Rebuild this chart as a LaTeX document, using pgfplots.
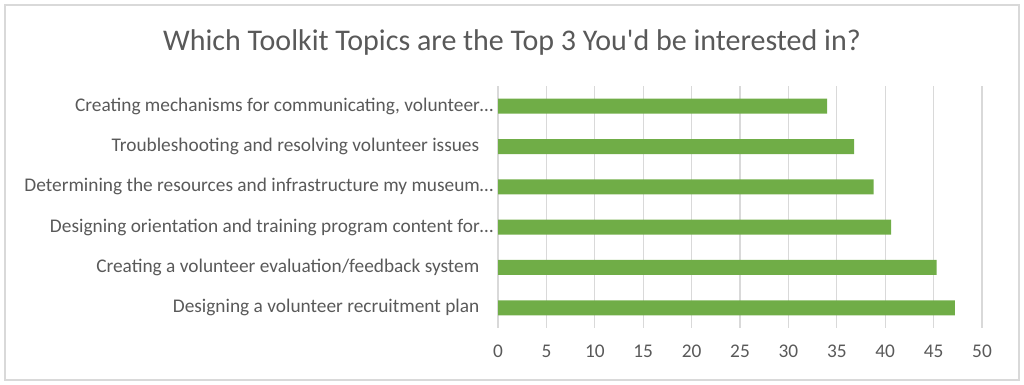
\documentclass[border=0pt]{standalone}
\usepackage{pgfplots}
\pgfplotsset{compat=1.18}
\usepackage{fontspec}
\setmainfont{Carlito}[Ligatures=TeXOff]
\definecolor{bargreen}{HTML}{70AD47}
\definecolor{txtgray}{HTML}{595959}
\definecolor{gridgray}{HTML}{D9D9D9}
\begin{document}
\begin{tikzpicture}
\useasboundingbox (0,0) rectangle (768pt,288.75pt);
\draw[gridgray, line width=1.2pt] (3.75pt,3.75pt) rectangle (764.25pt,285pt);
\node[txtgray, font=\fontsize{22.5}{24}\selectfont] at (384pt,256.5pt) {Which Toolkit Topics are the Top 3 You'd be interested in?};
\begin{axis}[
  at={(373.5pt,42.75pt)}, anchor=south west,
  width=363pt, height=181.5pt, scale only axis,
  xbar, bar width=11.25pt,
  xmin=0, xmax=50, ymin=-0.5, ymax=5.5,
  xtick={0,5,...,50},
  ytick={0,1,2,3,4,5},
  yticklabels={
    {Designing a volunteer recruitment plan\kern10.5pt},
    {Creating a volunteer evaluation/feedback system\kern10.5pt},
    {Designing orientation and training program content for…},
    {Determining the resources and infrastructure my museum…},
    {Troubleshooting and resolving volunteer issues\kern10.5pt},
    {Creating mechanisms for communicating, volunteer…}},
  axis line style={draw=none},
  major tick length=0pt,
  xmajorgrids, major grid style={gridgray, line width=0.9pt},
  ticklabel style={txtgray, font=\fontsize{14.5}{16}\selectfont},
  /pgf/number format/assume math mode=true,
  xticklabel style={yshift=-9.5pt},
  yticklabel style={anchor=east, xshift=0pt},
]
\addplot[fill=bargreen, draw=none] coordinates {
  (47.2,0) (45.3,1) (40.6,2) (38.8,3) (36.8,4) (34.0,5)};
\end{axis}
\end{tikzpicture}
\end{document}
